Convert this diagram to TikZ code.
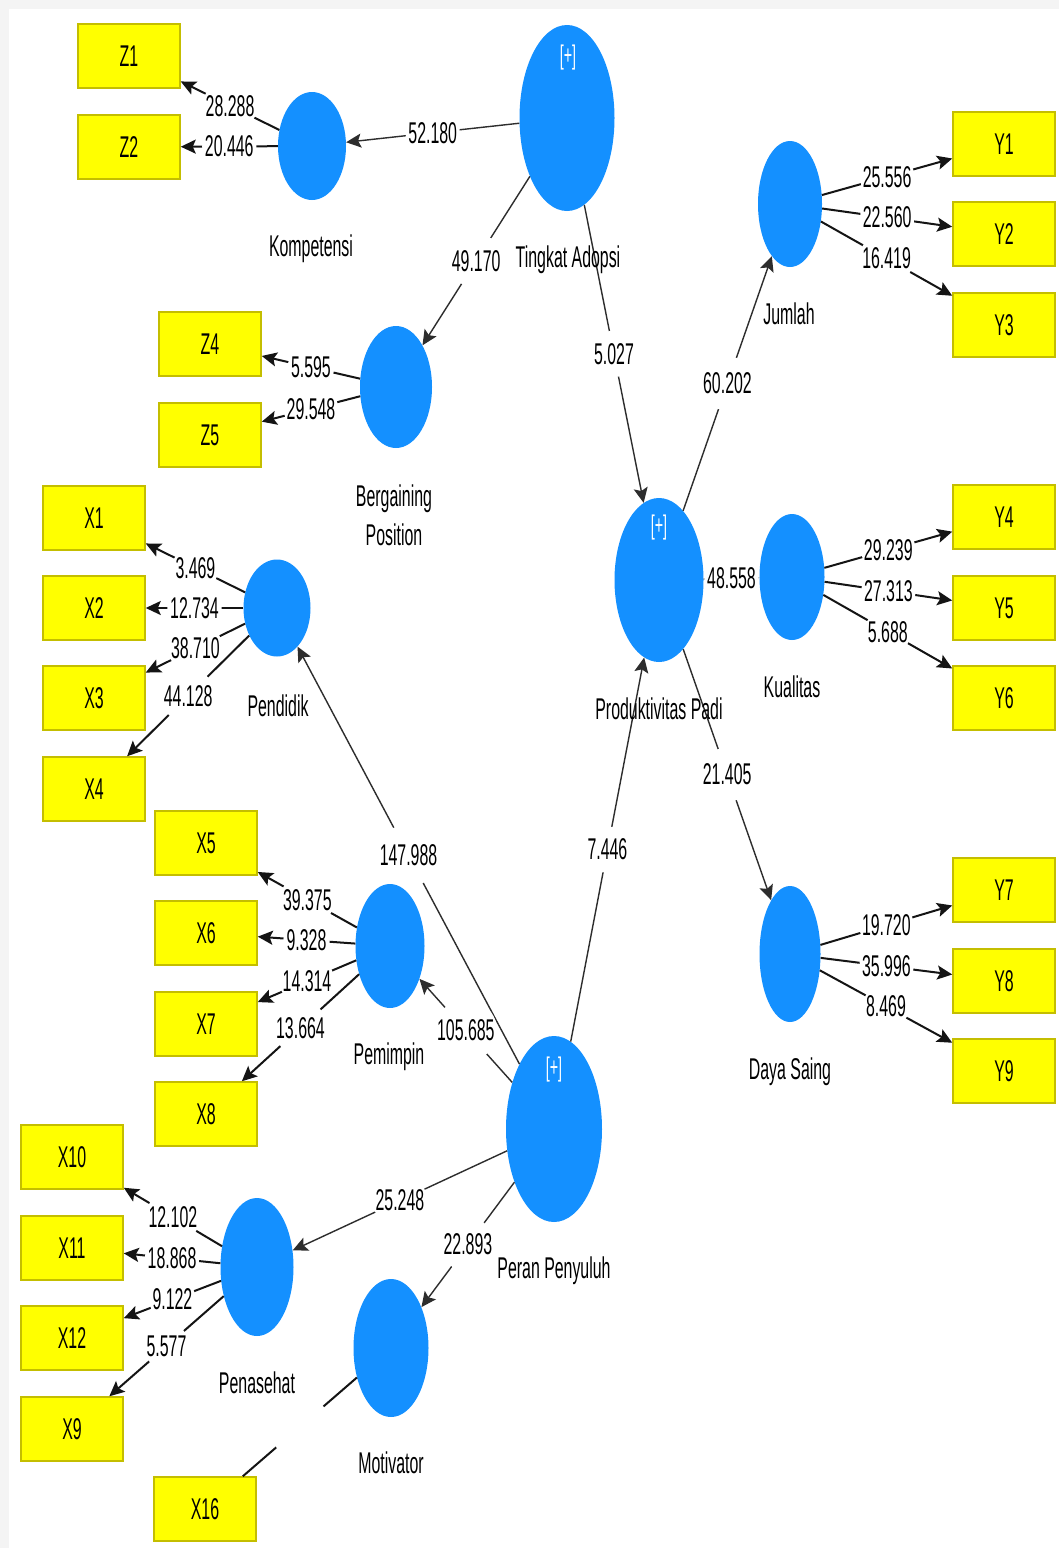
\documentclass[tikz,border=0pt]{standalone}
\usepackage{fontspec}
\setmainfont{Liberation Sans}[FakeStretch=0.53]
\usetikzlibrary{shapes.geometric,arrows.meta}
\definecolor{lvblue}{RGB}{20,144,255}
\definecolor{boxyel}{RGB}{255,255,0}
\definecolor{boxedge}{RGB}{196,190,0}
\definecolor{strline}{RGB}{45,45,45}
\definecolor{loadline}{RGB}{20,20,20}

\newcommand\edgelist{%
\Edge{Tin}{Kom}{52.180}{str}
\Edge{Kom}{Z1}{28.288}{load}
\Edge{Kom}{Z2}{20.446}{load}
\Edge{Tin}{Ber}{49.170}{str}
\Edge{Tin}{Pro}{5.027}{str}
\Edge{Ber}{Z4}{5.595}{load}
\Edge{Ber}{Z5}{29.548}{load}
\Edge{Pro}{Jum}{60.202}{str}
\Edge{Jum}{Y1}{25.556}{load}
\Edge{Jum}{Y2}{22.560}{load}
\Edge{Jum}{Y3}{16.419}{load}
\Edge{Pro}{Kua}{48.558}{str}
\Edge{Kua}{Y4}{29.239}{load}
\Edge{Kua}{Y5}{27.313}{load}
\Edge{Kua}{Y6}{5.688}{load}
\Edge{Pro}{Day}{21.405}{str}
\Edge{Day}{Y7}{19.720}{load}
\Edge{Day}{Y8}{35.996}{load}
\Edge{Day}{Y9}{8.469}{load}
\Edge{Pen}{X1}{3.469}{load}
\Edge{Pen}{X2}{12.734}{load}
\Edge{Pen}{X3}{38.710}{load}
\Edge{Pen}{X4}{44.128}{load}
\Edge{Per}{Pen}{147.988}{str}
\Edge{Per}{Pro}{7.446}{str}
\Edge{Pem}{X5}{39.375}{load}
\Edge{Pem}{X6}{9.328}{load}
\Edge{Pem}{X7}{14.314}{load}
\Edge{Pem}{X8}{13.664}{load}
\Edge{Per}{Pem}{105.685}{str}
\Edge{Per}{Pns}{25.248}{str}
\Edge{Per}{Mot}{22.893}{str}
\Edge{Pns}{X10}{12.102}{load}
\Edge{Pns}{X11}{18.868}{load}
\Edge{Pns}{X12}{9.122}{load}
\Edge{Pns}{X9}{5.577}{load}
}

\begin{document}
\begin{tikzpicture}[x=1pt,y=-1pt,
  every node/.style={font=\fontsize{30}{32}\selectfont},
  lv/.style={ellipse, fill=lvblue, draw=none, inner sep=0pt},
  ind/.style={rectangle, fill=boxyel, draw=boxedge, line width=1.5pt,
    minimum width=102pt, minimum height=64pt, inner sep=0pt, text=black},
  nm/.style={anchor=base, inner sep=0pt, text=black},
  plus/.style={text=white, inner sep=0pt, font=\fontsize{27}{29}\selectfont},
  tip/.style={-{Stealth[length=15pt,width=14pt,inset=3pt]}},
  str/.style={draw=strline, line width=1.4pt, tip},
  load/.style={draw=loadline, line width=2pt, tip},
  noarrow/.style={draw=loadline, line width=2pt},
  gap/.style={circle, fill=white, inner sep=0.5pt},
  lbl/.style={inner sep=0pt, text=black}]

\useasboundingbox (0,0) rectangle (1059,1548);
\fill[gray!9] (0,0) rectangle (1059,1548);
\fill[white] (9,9) rectangle (1059,1548);

% latent variables
\node[lv, minimum width=68pt, minimum height=108pt] (Kom) at (312,146) {};
\node[lv, minimum width=95pt, minimum height=186pt] (Tin) at (567,118) {};
\node[lv, minimum width=72pt, minimum height=122pt] (Ber) at (396,387) {};
\node[lv, minimum width=64pt, minimum height=126pt] (Jum) at (790,204) {};
\node[lv, minimum width=89pt, minimum height=164pt] (Pro) at (659,580) {};
\node[lv, minimum width=65pt, minimum height=126pt] (Kua) at (792,577) {};
\node[lv, minimum width=67pt, minimum height=97pt] (Pen) at (277,608) {};
\node[lv, minimum width=69pt, minimum height=124pt] (Pem) at (390,946) {};
\node[lv, minimum width=61pt, minimum height=136pt] (Day) at (790,954) {};
\node[lv, minimum width=96pt, minimum height=186pt] (Per) at (554,1129) {};
\node[lv, minimum width=73pt, minimum height=138pt] (Pns) at (257,1267) {};
\node[lv, minimum width=75pt, minimum height=138pt] (Mot) at (391,1348) {};

% indicators
\node[ind] (Z1) at (129,56) {Z1};
\node[ind] (Z2) at (129,147) {Z2};
\node[ind] (Z4) at (210,344) {Z4};
\node[ind] (Z5) at (210,435) {Z5};
\node[ind] (X1) at (94,518) {X1};
\node[ind] (X2) at (94,608) {X2};
\node[ind] (X3) at (94,698) {X3};
\node[ind] (X4) at (94,789) {X4};
\node[ind] (X5) at (206,843) {X5};
\node[ind] (X6) at (206,933) {X6};
\node[ind] (X7) at (206,1024) {X7};
\node[ind] (X8) at (206,1114) {X8};
\node[ind] (X10) at (72,1157) {X10};
\node[ind] (X11) at (72,1248) {X11};
\node[ind] (X12) at (72,1338) {X12};
\node[ind] (X9) at (72,1429) {X9};
\node[ind] (X16) at (205,1509) {X16};
\node[ind] (Y1) at (1004,144) {Y1};
\node[ind] (Y2) at (1004,234) {Y2};
\node[ind] (Y3) at (1004,325) {Y3};
\node[ind] (Y4) at (1004,517) {Y4};
\node[ind] (Y5) at (1004,608) {Y5};
\node[ind] (Y6) at (1004,698) {Y6};
\node[ind] (Y7) at (1004,890) {Y7};
\node[ind] (Y8) at (1004,981) {Y8};
\node[ind] (Y9) at (1004,1071) {Y9};

% pass 1: lines with white gaps
\def\Edge#1#2#3#4{\draw[#4] (#1) -- node[gap] (g#1#2) {\phantom{#3}} (#2);}
\edgelist
\draw[noarrow] (Mot) -- node[gap] (gMotX16) {\phantom{00.0000}} (X16);

% pass 2: label texts
\def\Edge#1#2#3#4{\path (#1) -- node[lbl] (t#1#2) {#3} (#2);}
\edgelist

% [+] markers
\node[plus] (pTin) at (568,58) {[+]};
\node[plus] (pPro) at (659,528) {[+]};
\node[plus] (pPer) at (554,1070) {[+]};

% names
\node[nm] (nKom) at (311,256) {Kompetensi};
\node[nm] (nTin) at (568,267) {Tingkat Adopsi};
\node[nm] (nBer1) at (394,506) {Bergaining};
\node[nm] (nBer2) at (394,545) {Position};
\node[nm] (nJum) at (789,324) {Jumlah};
\node[nm] (nPro) at (659,719) {Produktivitas Padi};
\node[nm] (nKua) at (792,697) {Kualitas};
\node[nm] (nPen) at (278,716) {Pendidik};
\node[nm] (nPem) at (389,1064) {Pemimpin};
\node[nm] (nDay) at (790,1079) {Daya Saing};
\node[nm] (nPer) at (554,1278) {Peran Penyuluh};
\node[nm] (nPns) at (257,1393) {Penasehat};
\node[nm] (nMot) at (391,1473) {Motivator};
\end{tikzpicture}
\end{document}
